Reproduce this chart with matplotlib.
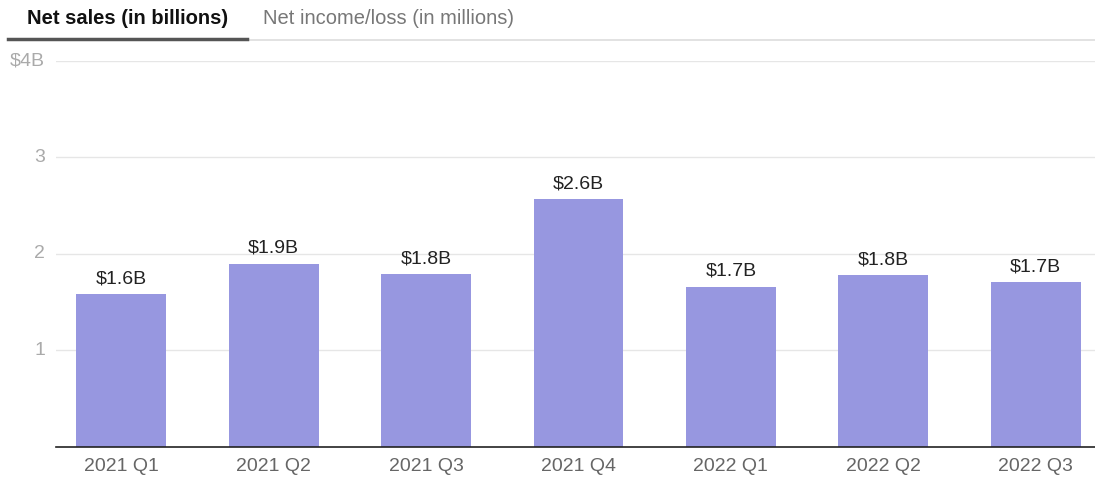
import matplotlib.pyplot as plt
import matplotlib.transforms as mtransforms
from matplotlib.lines import Line2D

plt.rcParams['font.family'] = ['Liberation Sans', 'DejaVu Sans']

# quarterly net sales, billions of dollars
quarters = ['2021 Q1', '2021 Q2', '2021 Q3', '2021 Q4', '2022 Q1', '2022 Q2', '2022 Q3']
net_sales = [1.58, 1.90, 1.79, 2.57, 1.66, 1.78, 1.71]
y_ticks = [1, 2, 3, 4]
y_tick_labels = ['1', '2', '3', '$4B']

bar_color = '#9797e0'

fig = plt.figure(figsize=(10.95, 4.8), dpi=100)
ax = fig.add_axes([0.051, 0.069, 0.949, 0.804])

x = range(len(quarters))
bars = ax.bar(x, net_sales, width=0.59, color=bar_color, zorder=2)
for b, v in zip(bars, net_sales):
    ax.text(b.get_x() + b.get_width() / 2, v + 0.07, f'${v:.1f}B',
            ha='center', va='bottom', fontsize=14, color='#222222')

ax.set_xlim(-0.43, 6.39)
ax.set_ylim(0, 4)
ax.set_xticks(list(x))
ax.set_xticklabels(quarters, fontsize=14, color='#666666')
ax.set_yticks(y_ticks)
ax.set_yticklabels([])

# y labels sit just left of the gridlines
ylab_trans = mtransforms.blended_transform_factory(fig.transFigure, ax.transData)
for t, lab in zip(y_ticks, y_tick_labels):
    ax.text(45 / 1095, t, lab, transform=ylab_trans, ha='right',
            va='center', fontsize=14, color='#aaaaaa')

ax.tick_params(axis='both', length=0)
ax.tick_params(axis='x', pad=8)
ax.grid(axis='y', color='#e6e6e6', linewidth=1, zorder=0)
for side in ['top', 'right', 'left']:
    ax.spines[side].set_visible(False)
ax.spines['bottom'].set_color('#222222')
ax.spines['bottom'].set_linewidth(1.2)

# tab header
fig.text(27 / 1095, 1 - 18 / 480, 'Net sales (in billions)', fontsize=14.5,
         fontweight='bold', color='#111111', va='center')
fig.text(263 / 1095, 1 - 18 / 480, 'Net income/loss (in millions)', fontsize=14.5,
         color='#777777', va='center')
fig.add_artist(Line2D([8 / 1095, 1], [1 - 40 / 480] * 2, color='#dddddd', lw=1.2))
fig.add_artist(Line2D([8 / 1095, 247 / 1095], [1 - 38.5 / 480] * 2, color='#555555', lw=2.5))

fig.savefig('out.png', dpi=100)
